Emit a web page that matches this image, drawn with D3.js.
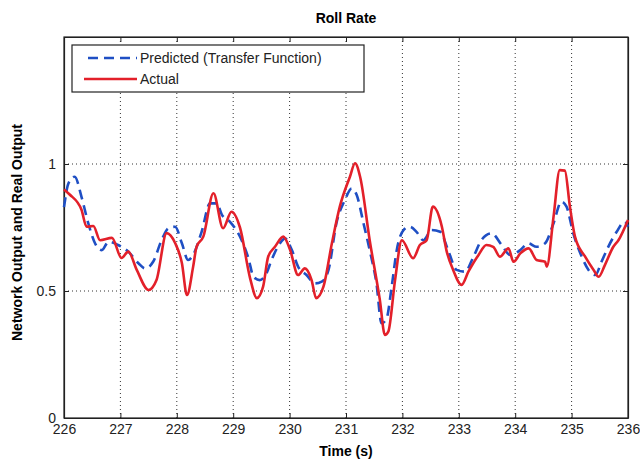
<!DOCTYPE html>
<html>
<head>
<meta charset="utf-8">
<script src="https://cdn.jsdelivr.net/npm/d3@7"></script>
<style>
  body { margin: 0; background: #fff; }
  svg text { font-family: "Liberation Sans", Arial, sans-serif; }
</style>
</head>
<body>
<svg width="640" height="459"></svg>
<script>
// time (s) and values
var actualT = [226.0, 226.1, 226.31, 226.4, 226.52, 226.64, 226.85, 227.02, 227.14, 227.29, 227.5, 227.64,
    227.82, 227.97, 228.09, 228.18, 228.29, 228.35, 228.47, 228.65, 228.82, 228.97, 229.12, 229.3, 229.42,
    229.53, 229.62, 229.74, 229.89, 230.01, 230.15, 230.27, 230.39, 230.47, 230.6, 230.75, 230.89, 231.07,
    231.16, 231.25, 231.42, 231.6, 231.69, 231.75, 231.87, 231.99, 232.19, 232.31, 232.43, 232.54, 232.7,
    232.78, 232.9, 233.05, 233.17, 233.35, 233.49, 233.61, 233.73, 233.88, 233.97, 234.09, 234.24, 234.38,
    234.53, 234.56, 234.68, 234.79, 234.88, 234.97, 235.06, 235.24, 235.39, 235.48, 235.59, 235.74, 235.83, 236.0];
var actualV = [0.9, 0.88, 0.82, 0.753, 0.756, 0.7, 0.709, 0.63, 0.655, 0.583, 0.504, 0.543,
    0.728, 0.689, 0.61, 0.484, 0.596, 0.674, 0.714, 0.885, 0.747, 0.812, 0.75, 0.55, 0.472,
    0.517, 0.635, 0.674, 0.714, 0.661, 0.563, 0.589, 0.543, 0.472, 0.517, 0.688, 0.832, 0.95,
    1.003, 0.95, 0.7, 0.465, 0.327, 0.34, 0.543, 0.7, 0.629, 0.681, 0.7, 0.832, 0.753,
    0.661, 0.583, 0.524, 0.576, 0.642, 0.681, 0.674, 0.635, 0.668, 0.615, 0.648, 0.668, 0.622,
    0.615, 0.596, 0.793, 0.976, 0.974, 0.832, 0.714, 0.635, 0.583, 0.556, 0.602, 0.674, 0.7, 0.78];

var predT = [226.0, 226.08, 226.19, 226.31, 226.43, 226.55, 226.67, 226.79, 226.96, 227.14, 227.32, 227.44,
    227.58, 227.73, 227.85, 227.97, 228.09, 228.2, 228.29, 228.44, 228.59, 228.71, 228.8, 228.94, 229.15,
    229.27, 229.36, 229.47, 229.59, 229.68, 229.83, 229.92, 230.04, 230.15, 230.3, 230.45, 230.57, 230.69,
    230.83, 230.98, 231.1, 231.19, 231.31, 231.42, 231.54, 231.63, 231.72, 231.81, 231.9, 232.02, 232.13,
    232.25, 232.37, 232.52, 232.67, 232.81, 232.96, 233.11, 233.26, 233.4, 233.58, 233.76, 233.91, 234.09,
    234.23, 234.38, 234.53, 234.68, 234.82, 234.91, 235.03, 235.18, 235.3, 235.42, 235.53, 235.65, 235.8,
    235.94, 236.0];
var predV = [0.83, 0.924, 0.95, 0.871, 0.767, 0.688, 0.661, 0.694, 0.681, 0.655, 0.609, 0.589,
    0.615, 0.7, 0.747, 0.753, 0.688, 0.622, 0.642, 0.733, 0.845, 0.845, 0.8, 0.773, 0.7,
    0.629, 0.556, 0.543, 0.57, 0.622, 0.688, 0.707, 0.661, 0.596, 0.563, 0.53, 0.537, 0.583,
    0.767, 0.858, 0.904, 0.878, 0.767, 0.661, 0.53, 0.373, 0.392, 0.517, 0.661, 0.74, 0.753,
    0.733, 0.7, 0.74, 0.733, 0.661, 0.583, 0.576, 0.635, 0.7, 0.727, 0.681, 0.642, 0.661,
    0.688, 0.674, 0.688, 0.767, 0.852, 0.832, 0.727, 0.635, 0.583, 0.563, 0.615, 0.674, 0.733,
    0.773, 0.753];

var xTicks = [226, 227, 228, 229, 230, 231, 232, 233, 234, 235, 236];
var yTicks = [0, 0.5, 1];

var svg = d3.select("svg");
var plotLeft = 64, plotRight = 628, plotTop = 37, plotBottom = 418;

var x = d3.scaleLinear().domain([226, 236]).range([plotLeft, plotRight]);
var y = d3.scaleLinear().domain([0, 1.5]).range([plotBottom, plotTop]);

// grid
var grid = svg.append("g").attr("class", "grid");
grid.selectAll("line.vx")
    .data(xTicks.slice(1, -1))
    .enter().append("line")
    .attr("x1", function (d) { return x(d); })
    .attr("x2", function (d) { return x(d); })
    .attr("y1", plotTop).attr("y2", plotBottom)
    .attr("stroke", "#333").attr("stroke-width", 1)
    .attr("stroke-dasharray", "1,3");
grid.selectAll("line.hy")
    .data([0.5, 1])
    .enter().append("line")
    .attr("x1", plotLeft).attr("x2", plotRight)
    .attr("y1", function (d) { return y(d); })
    .attr("y2", function (d) { return y(d); })
    .attr("stroke", "#333").attr("stroke-width", 1)
    .attr("stroke-dasharray", "1,3");

// axes
var xAxis = d3.axisBottom(x).tickValues(xTicks).tickSizeInner(-5).tickSizeOuter(0).tickPadding(8);
var yAxis = d3.axisLeft(y).tickValues(yTicks).tickSizeInner(-5).tickSizeOuter(0).tickPadding(8)
    .tickFormat(d3.format("~g"));

var gx = svg.append("g").attr("transform", "translate(0," + plotBottom + ")").call(xAxis);
var gy = svg.append("g").attr("transform", "translate(" + plotLeft + ",0)").call(yAxis);
svg.append("g").attr("transform", "translate(0," + plotTop + ")")
    .call(d3.axisTop(x).tickValues(xTicks).tickSizeInner(-5).tickSizeOuter(0).tickFormat(""));
svg.append("g").attr("transform", "translate(" + plotRight + ",0)")
    .call(d3.axisRight(y).tickValues(yTicks).tickSizeInner(-5).tickSizeOuter(0).tickFormat(""));

svg.selectAll(".domain").attr("stroke", "#222").attr("stroke-width", 1.2);
svg.selectAll(".tick line").attr("stroke", "#222");
svg.selectAll(".tick text").attr("font-size", 14).attr("fill", "#222");
gx.selectAll(".tick text").attr("dy", "0.6em");

svg.append("rect")
    .attr("x", plotLeft).attr("y", plotTop)
    .attr("width", plotRight - plotLeft).attr("height", plotBottom - plotTop)
    .attr("fill", "none").attr("stroke", "#222").attr("stroke-width", 1.2);

// lines
var predData = predT.map(function (t, i) { return [t, predV[i]]; });
var actualData = actualT.map(function (t, i) { return [t, actualV[i]]; });

var line = d3.line()
    .x(function (d) { return x(d[0]); })
    .y(function (d) { return y(d[1]); })
    .curve(d3.curveMonotoneX);

svg.append("path")
    .datum(predData)
    .attr("d", line)
    .attr("fill", "none")
    .attr("stroke", "#1f4fc4")
    .attr("stroke-width", 2.6)
    .attr("stroke-dasharray", "10,6");

svg.append("path")
    .datum(actualData)
    .attr("d", line)
    .attr("fill", "none")
    .attr("stroke", "#e3202a")
    .attr("stroke-width", 2.6);

// legend
var legend = svg.append("g");
legend.append("rect")
    .attr("x", 72).attr("y", 45)
    .attr("width", 292).attr("height", 47)
    .attr("fill", "#fff").attr("stroke", "#222").attr("stroke-width", 1.2);
legend.append("line")
    .attr("x1", 88).attr("x2", 137).attr("y1", 58).attr("y2", 58)
    .attr("stroke", "#1f4fc4").attr("stroke-width", 2.6).attr("stroke-dasharray", "10,6");
legend.append("line")
    .attr("x1", 84).attr("x2", 137).attr("y1", 79).attr("y2", 79)
    .attr("stroke", "#e3202a").attr("stroke-width", 2.6);
legend.append("text").attr("x", 140).attr("y", 63).attr("font-size", 14).attr("fill", "#222")
    .text("Predicted (Transfer Function)");
legend.append("text").attr("x", 140).attr("y", 84).attr("font-size", 14).attr("fill", "#222")
    .text("Actual");

// titles
svg.append("text")
    .attr("x", (plotLeft + plotRight) / 2).attr("y", 23)
    .attr("text-anchor", "middle").attr("font-size", 14).attr("font-weight", "bold")
    .text("Roll Rate");
svg.append("text")
    .attr("x", (plotLeft + plotRight) / 2).attr("y", 456)
    .attr("text-anchor", "middle").attr("font-size", 14).attr("font-weight", "bold")
    .text("Time (s)");
svg.append("text")
    .attr("transform", "translate(22," + ((plotTop + plotBottom) / 2 + 5) + ") rotate(-90)")
    .attr("text-anchor", "middle").attr("font-size", 14).attr("font-weight", "bold")
    .text("Network Output and Real Output");
</script>
</body>
</html>
